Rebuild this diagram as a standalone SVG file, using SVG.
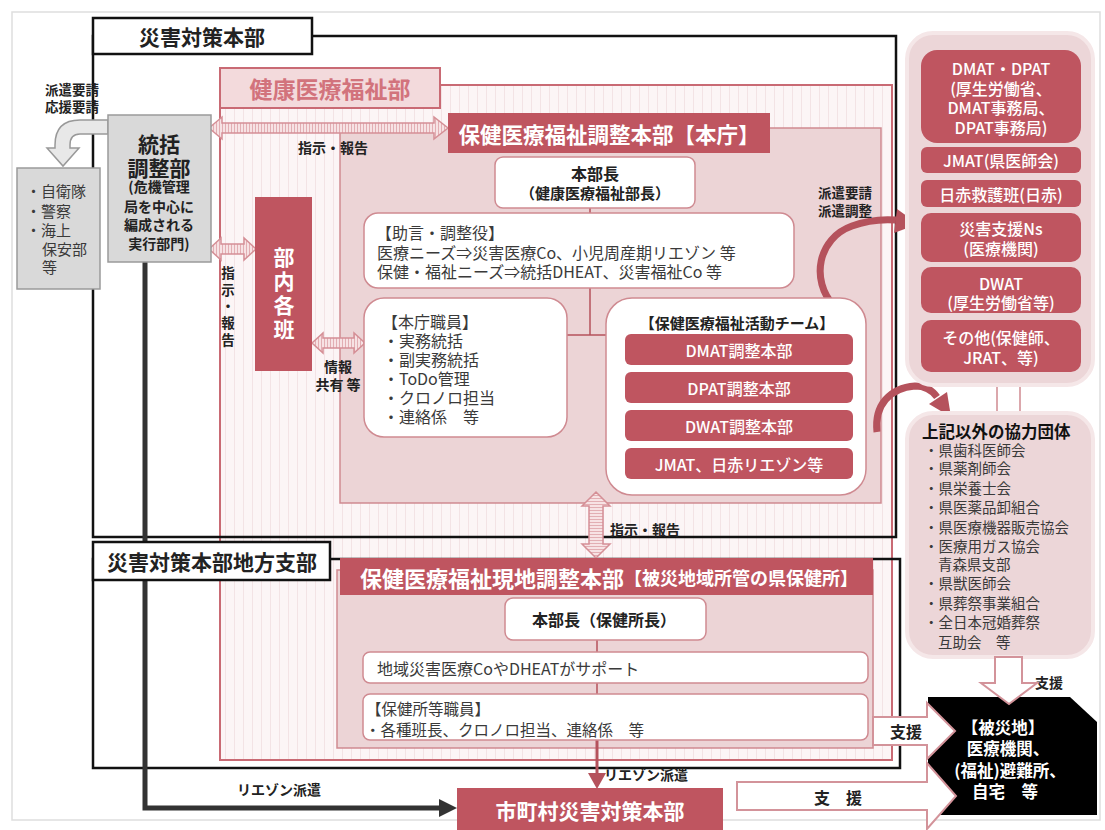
<svg xmlns="http://www.w3.org/2000/svg" width="1105" height="830" viewBox="0 0 1105 830">
<defs>
<style>
text{font-family:"Noto Sans CJK JP","Noto Sans",sans-serif;}
.b{font-weight:700}
.m{font-weight:500}
.c{text-anchor:middle}
.v{dominant-baseline:central}
.w{fill:#fff}
.k{fill:#222}
.g{fill:#3a3a3a}
.blk{fill:none;stroke:#111;stroke-width:2.5}
.rose{fill:#bf5560}
.wbox{fill:#fff;stroke:#cf8a91;stroke-width:1.5}
.panel{fill:#ecd6d8;stroke:#f5e7e8;stroke-width:4}
.gray{fill:#d9d9d9;stroke:#9a9a9a;stroke-width:1.5}
.parr{stroke:#d58f96;stroke-width:1.5}
.harr{fill:#fff;stroke:#d3939a;stroke-width:2}
.curve{fill:none;stroke:#b5525c;stroke-width:7}
.ln{fill:none;stroke:#b5525c;stroke-width:1.5}
</style>
<pattern id="vs" width="9" height="10" patternUnits="userSpaceOnUse"><rect width="9" height="10" fill="#fcf5f6"/><rect width="1" height="10" fill="#f3e3e5"/></pattern>
<pattern id="avs" width="3" height="4" patternUnits="userSpaceOnUse"><rect width="3" height="4" fill="#f7e2e4"/><rect width="1" height="4" fill="#e2aeb3"/></pattern>
<pattern id="ahs" width="4" height="3" patternUnits="userSpaceOnUse"><rect width="4" height="3" fill="#f7e2e4"/><rect width="4" height="1" fill="#e2aeb3"/></pattern>
</defs>
<rect width="1105" height="830" fill="#fff"/>
<rect x="12" y="12" width="1088" height="808" fill="none" stroke="#dedede" stroke-width="1.5"/>

<g id="dept-health">
<rect x="220" y="85" width="672" height="675" fill="url(#vs)" stroke="#c96a74" stroke-width="2"/>
</g>

<g id="frames">
<rect class="blk" x="93" y="36" width="803" height="501"/>
<rect class="blk" x="93" y="559" width="807" height="209"/>
</g>

<g id="honcho-area">
<rect x="340" y="128" width="541" height="375" fill="#ecd4d6" stroke="#cf8a91" stroke-width="1.5"/>
</g>
<g id="genchi-area">
<rect x="337" y="570" width="536" height="178" fill="#ecd4d6" stroke="#cf8a91" stroke-width="1.5"/>
</g>

<g id="connectors">
<path class="ln" d="M590,208V213M590,288V335M567,335H607"/>
<path class="ln" d="M597,640V652M597,683V694"/>
<path d="M597,740V776" fill="none" stroke="#b5525c" stroke-width="3"/>
<polygon points="588,773 606,773 597,789" fill="#b5525c"/>
<path d="M145,262V808H442" fill="none" stroke="#333" stroke-width="5"/>
<polygon points="439,799 457,808 439,817" fill="#333"/>
<polygon class="parr" fill="url(#avs)" points="209,128 222,117 222,123 434,123 434,117 448,128 434,139 434,133 222,133 222,139"/>
<polygon class="parr" fill="url(#avs)" points="209,249 221,238 221,244 244,244 244,238 256,249 244,260 244,254 221,254 221,260"/>
<polygon class="parr" fill="url(#avs)" points="312,343 323,333 323,338 354,338 354,333 365,343 354,353 354,348 323,348 323,353"/>
<polygon class="parr" fill="url(#ahs)" points="596,492 610,506 603,506 603,544 610,544 596,558 582,544 589,544 589,506 582,506"/>
<path d="M108,120L80,120Q55,120 55,145L55,148L47,148L63,166L79,148L70,148L70,145Q70,134 80,134L108,134Z" fill="#e8e8e8" stroke="#999" stroke-width="1.5"/>
<path class="curve" d="M834,306C810,280 818,238 852,226C868,220 882,219 896,220"/>
<polygon points="897,209 918,224 894,233" fill="#b5525c"/>
<path class="curve" d="M877,432C874,405 890,388 915,386C925,386 932,390 937,397"/>
<polygon points="929,404 951,417 947,392" fill="#b5525c"/>
<rect x="997" y="385" width="23" height="28" fill="#fff" stroke="#cf8a91" stroke-width="1.5"/>
</g>

<g id="labels">
<text class="b k" x="45" y="95" font-size="13.5">派遣要請</text>
<text class="b k" x="45" y="112" font-size="13.5">応援要請</text>
<text class="b k" x="298" y="153" font-size="14">指示・報告</text>
<text class="b k c v" font-size="13.5"><tspan x="228" y="272">指</tspan><tspan x="228" y="289">示</tspan><tspan x="228" y="305">・</tspan><tspan x="228" y="322">報</tspan><tspan x="228" y="339">告</tspan></text>
<text class="b k c" font-size="14"><tspan x="338" y="372">情報</tspan><tspan x="338" y="390">共有 等</tspan></text>
<text class="b k" x="610" y="535" font-size="14">指示・報告</text>
<text class="b k" x="818" y="198" font-size="13.5">派遣要請</text>
<text class="b k" x="818" y="216" font-size="13.5">派遣調整</text>
<text class="b k" x="604" y="780" font-size="14">リエゾン派遣</text>
<text class="b k" x="237" y="795" font-size="14">リエゾン派遣</text>
<text class="b k" x="1035" y="688" font-size="14">支援</text>
</g>

<g id="saigai-honbu">
<rect x="93" y="18" width="219" height="36" fill="#fff" stroke="#111" stroke-width="2.5"/>
<text class="b k c v" x="202" y="36" font-size="21">災害対策本部</text>
</g>
<g id="chiho-shibu">
<rect x="93" y="542" width="237" height="38" fill="#fff" stroke="#111" stroke-width="2.5"/>
<text class="b k c v" x="212" y="561" font-size="21">災害対策本部地方支部</text>
</g>
<g id="health-label">
<rect x="220" y="68" width="220" height="40" fill="#f3dadc" stroke="#c96a74" stroke-width="2"/>
<text class="b c v" x="330" y="88" font-size="23" fill="#d2737c">健康医療福祉部</text>
</g>

<g id="tokatsu">
<rect class="gray" x="108" y="115" width="103" height="147"/>
<text class="b k c v" x="159" y="143" font-size="21">統括</text>
<text class="b k c v" x="159" y="167" font-size="21">調整部</text>
<text class="b k c v" font-size="14"><tspan x="159" y="186">(危機管理</tspan><tspan x="159" y="206">局を中心に</tspan><tspan x="159" y="224">編成される</tspan><tspan x="159" y="243">実行部門)</tspan></text>
</g>
<g id="outside-orgs">
<rect class="gray" x="17" y="168" width="83" height="121"/>
<text class="g v" font-size="15"><tspan x="26" y="190">・自衛隊</tspan><tspan x="26" y="210">・警察</tspan><tspan x="26" y="229">・海上</tspan><tspan x="42" y="248">保安部</tspan><tspan x="42" y="266">等</tspan></text>
</g>

<g id="bunai">
<rect class="rose" x="255" y="197" width="57" height="174"/>
<text class="b w c v" font-size="21"><tspan x="284" y="256">部</tspan><tspan x="284" y="280">内</tspan><tspan x="284" y="304">各</tspan><tspan x="284" y="328">班</tspan></text>
</g>

<g id="honcho-header">
<rect class="rose" x="448" y="113" width="322" height="40"/>
<text class="b w c v" x="609" y="133" font-size="21.5">保健医療福祉調整本部【本庁】</text>
</g>
<g id="honbucho">
<rect class="wbox" x="495" y="157" width="200" height="51" rx="8"/>
<text class="b k c v" x="595" y="173" font-size="16">本部長</text>
<text class="b k c v" x="595" y="192" font-size="15">（健康医療福祉部長）</text>
</g>
<g id="jogen">
<rect class="wbox" x="364" y="213" width="430" height="75" rx="14"/>
<text class="g v" font-size="16"><tspan x="376" y="232">【助言・調整役】</tspan><tspan x="377" y="252">医療ニーズ⇒災害医療Co、小児周産期リエゾン 等</tspan><tspan x="377" y="271">保健・福祉ニーズ⇒統括DHEAT、災害福祉Co 等</tspan></text>
</g>
<g id="honcho-staff">
<rect class="wbox" x="364" y="298" width="203" height="139" rx="20"/>
<text class="g v" font-size="16"><tspan x="382" y="321">【本庁職員】</tspan><tspan x="383" y="340">・実務統括</tspan><tspan x="383" y="359">・副実務統括</tspan><tspan x="383" y="378">・ToDo管理</tspan><tspan x="383" y="397">・クロノロ担当</tspan><tspan x="383" y="416">・連絡係　等</tspan></text>
</g>
<g id="katsudo-team">
<rect class="wbox" x="606" y="298" width="260" height="197" rx="26"/>
<text class="b k c v" x="737" y="322" font-size="15">【保健医療福祉活動チーム】</text>
<rect class="rose" x="625" y="334" width="228" height="31" rx="6"/>
<rect class="rose" x="625" y="372" width="228" height="31" rx="6"/>
<rect class="rose" x="625" y="410" width="228" height="31" rx="6"/>
<rect class="rose" x="625" y="448" width="228" height="31" rx="6"/>
<text class="m w c v" font-size="16"><tspan x="739" y="349.5">DMAT調整本部</tspan><tspan x="739" y="387.5">DPAT調整本部</tspan><tspan x="739" y="425.5">DWAT調整本部</tspan><tspan x="739" y="463.5">JMAT、日赤リエゾン等</tspan></text>
</g>

<g id="genchi-header">
<rect class="rose" x="340" y="558" width="533" height="37"/>
<text class="b w v" x="360" y="577"><tspan font-size="22">保健医療福祉現地調整本部</tspan><tspan font-size="18">【被災地域所管の県保健所】</tspan></text>
</g>
<g id="genchi-honbucho">
<rect class="wbox" x="505" y="598" width="201" height="42" rx="8"/>
<text class="b k c v" x="604" y="619" font-size="16">本部長（保健所長）</text>
</g>
<g id="support">
<rect class="wbox" x="363" y="652" width="505" height="31" rx="7"/>
<text class="g v" x="377" y="668" font-size="16">地域災害医療CoやDHEATがサポート</text>
</g>
<g id="hokenjo-staff">
<rect class="wbox" x="363" y="694" width="505" height="46" rx="7"/>
<text class="g v" font-size="15.5"><tspan x="366" y="708">【保健所等職員】</tspan><tspan x="365" y="729">・各種班長、クロノロ担当、連絡係　等</tspan></text>
</g>
<g id="shichoson">
<rect class="rose" x="457" y="788" width="266" height="45"/>
<text class="b w c v" x="590" y="810" font-size="21">市町村災害対策本部</text>
</g>

<g id="national-teams">
<rect class="panel" x="907" y="33" width="186" height="352" rx="26"/>
<rect class="rose" x="921" y="50" width="160" height="93" rx="16"/>
<rect class="rose" x="921" y="147" width="160" height="26" rx="6"/>
<rect class="rose" x="921" y="180" width="160" height="27" rx="6"/>
<rect class="rose" x="921" y="213" width="160" height="49" rx="10"/>
<rect class="rose" x="921" y="267" width="160" height="46" rx="10"/>
<rect class="rose" x="921" y="320" width="160" height="52" rx="10"/>
<text class="m w c v" font-size="16"><tspan x="1001" y="68">DMAT・DPAT</tspan><tspan x="1001" y="88">(厚生労働省、</tspan><tspan x="1001" y="107">DMAT事務局、</tspan><tspan x="1001" y="127">DPAT事務局)</tspan><tspan x="1001" y="160">JMAT(県医師会)</tspan><tspan x="1001" y="193.5">日赤救護班(日赤)</tspan><tspan x="1001" y="228">災害支援Ns</tspan><tspan x="1001" y="248">(医療機関)</tspan><tspan x="1001" y="283">DWAT</tspan><tspan x="1001" y="302">(厚生労働省等)</tspan><tspan x="1001" y="337">その他(保健師、</tspan><tspan x="1001" y="357">JRAT、等)</tspan></text>
</g>

<g id="kyoryoku">
<rect class="panel" x="907" y="413" width="186" height="244" rx="26"/>
<text class="b v" x="922" y="431" font-size="16.5" fill="#111">上記以外の協力団体</text>
<text class="g v" font-size="14.5"><tspan x="924" y="449">・県歯科医師会</tspan><tspan x="924" y="467">・県薬剤師会</tspan><tspan x="924" y="487">・県栄養士会</tspan><tspan x="924" y="506">・県医薬品卸組合</tspan><tspan x="924" y="526">・県医療機器販売協会</tspan><tspan x="924" y="545">・医療用ガス協会</tspan><tspan x="938" y="563">青森県支部</tspan><tspan x="924" y="582">・県獣医師会</tspan><tspan x="924" y="602">・県葬祭事業組合</tspan><tspan x="924" y="621">・全日本冠婚葬祭</tspan><tspan x="938" y="641">互助会　等</tspan></text>
</g>

<g id="hisaichi">
<polygon points="928,697 1070,697 1097,722 1097,815 928,815" fill="#000"/>
<polygon class="harr" points="995,657 1022,657 1022,683 1037,683 1009,704 981,683 995,683"/>
<polygon class="harr" points="873,717 927,717 927,703 955,731 927,759 927,745 873,745"/>
<polygon class="harr" points="737,782 927,782 927,763 956,796 927,829 927,810 737,810"/>
<text class="b k c v" x="906" y="731" font-size="16">支援</text>
<text class="b k c v" x="838" y="797" font-size="16">支　援</text>
<text class="b w c v" font-size="16.5"><tspan x="1003" y="727">【被災地】</tspan><tspan x="1008" y="748">医療機関、</tspan><tspan x="1010" y="770">(福祉)避難所、</tspan><tspan x="1005" y="791">自宅　等</tspan></text>
</g>
</svg>
